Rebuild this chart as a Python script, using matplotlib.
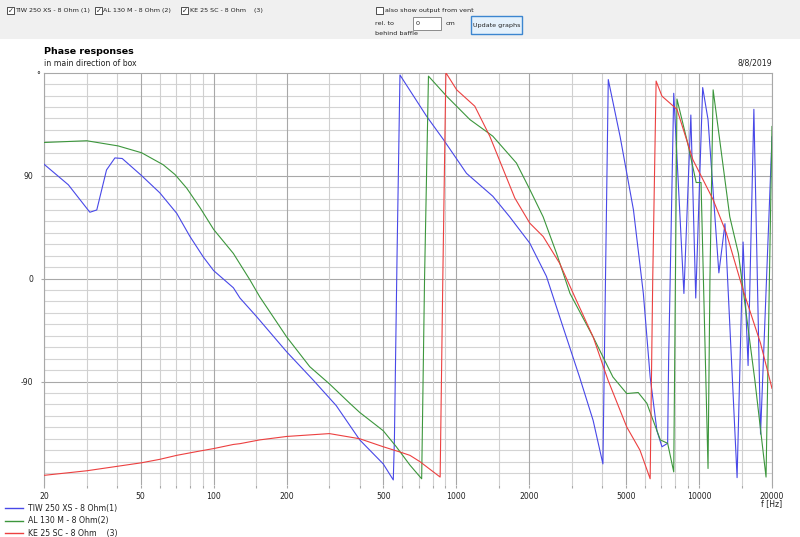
import numpy as np
import matplotlib
matplotlib.use("Agg")
import matplotlib.pyplot as plt
from matplotlib.patches import Rectangle

# series: frequency [Hz] and phase [deg]
tiw_f = [20, 25.2, 30.9, 33, 36.2, 39.2, 42, 50.5, 60, 70.5, 79.8, 90.6, 100, 120.6,
         128.4, 150, 200, 258, 320, 400, 500, 550, 556, 570, 586, 754, 882, 1102,
         1414, 1660, 2008, 2352, 2750, 3220, 3664, 4020, 4120, 4230, 4734, 5372,
         5900, 6294, 6712, 7040, 7430, 7500, 7872, 8670, 9260, 9700, 10360, 10900,
         12080, 12800, 14360, 15200, 15940, 16840, 17940, 20000]
tiw_deg = [100, 82, 58, 60, 95, 105.5, 105, 90, 75, 57, 37, 19, 7, -8,
           -17, -33, -64, -89, -111, -141, -162, -176, -140, 20, 178, 142, 122, 92,
           72, 54, 31, 2, -42, -86, -124, -162, 0, 174, 124, 60,
           -13, -86, -133, -147, -144, -71, 162, -13, 143, -17, 167, 139,
           5, 48, -174, 32, -76, 148, -136, 124]

al_f = [20, 30, 40.4, 50.5, 62, 69.3, 77.5, 87.9, 100, 120.6, 141, 155, 200, 249,
        300, 364, 400, 500, 566, 644, 720, 740, 768, 912, 1138, 1414, 1770, 2008,
        2280, 2590, 2942, 3664, 4420, 5040, 5620, 6100, 6930, 7430, 7872, 8000,
        8116, 9040, 9740, 10200, 10900, 11100, 11440, 13400, 14540, 17000, 18900,
        20000]
al_deg = [119, 120.5, 116, 110, 99.5, 91, 79, 62, 43, 22, -1, -16, -51, -77,
          -92, -109, -117, -133, -147, -163, -175, 0, 177, 159.5, 139, 124.5, 101, 78,
          54, 22, -13, -51, -86, -100.5, -99.6, -109, -141, -144, -169, 0,
          157, 116, 84, 84, -166, 0, 165, 54, 22, -89, -173.5,
          133]

ke_f = [20, 30, 40.4, 50.5, 60, 70.5, 87.9, 100, 120.6, 128.4, 155, 200, 300,
        400, 500, 586, 644, 708, 858, 880, 906, 1004, 1192, 1374, 1562, 1742,
        2008, 2280, 2664, 3120, 3664, 4220, 5040, 5714, 6294, 6450, 6660, 7040,
        8116, 9440, 11440, 12960, 15200, 17940, 20000]
ke_deg = [-172, -168, -164, -161, -158, -154.5, -150.7, -148.6, -145, -144.3, -141, -138, -135.5,
          -140, -147, -151.6, -154.5, -160, -173.5, 0, 180, 165, 150.7, 124.5, 95.3, 70.5,
          48.5, 36.8, 13.5, -18.7, -51, -88.8, -129.7, -150, -175, 0, 172.7, 159.5,
          148, 104, 69, 40, -10, -56.6, -96]

series_names = ["TIW 250 XS - 8 Ohm(1)", "AL 130 M - 8 Ohm(2)", "KE 25 SC - 8 Ohm    (3)"]
series_colors = ["#4848e8", "#3c963c", "#ec4040"]

x_labels = [20, 50, 100, 200, 500, 1000, 2000, 5000, 10000, 20000]
x_minor = [30, 40, 60, 70, 80, 90, 150, 300, 400, 600, 700, 800, 900, 1500,
           3000, 4000, 6000, 7000, 8000, 9000, 15000]
y_labels = [90, 0, -90]

W, H = 800, 537
FS = 5.6   # chart texts
TB = 4.6   # toolbar texts
TXT = "#222222"


def fx(x):
    return x / W


def fy(y):
    return 1 - y / H


fig = plt.figure(figsize=(W / 100, H / 100), dpi=100)
fig.patch.set_facecolor("white")

# toolbar strip
fig.patches.append(Rectangle((0, fy(39)), 1, 39 / H, transform=fig.transFigure,
                             facecolor="#f0f0f0", edgecolor="none", zorder=0))


def checkbox(x, y, checked):
    fig.patches.append(Rectangle((fx(x), fy(y + 7)), 7 / W, 7 / H, transform=fig.transFigure,
                                 facecolor="white", edgecolor="#333333", lw=0.6))
    if checked:
        fig.text(fx(x + 3.5), fy(y + 3.5), "\u2713", fontsize=5.0, ha="center",
                 va="center", color=TXT)


checkbox(7, 7, True)
fig.text(fx(15.5), fy(10.5), "TIW 250 XS - 8 Ohm (1)", fontsize=TB, va="center", color=TXT)
checkbox(95, 7, True)
fig.text(fx(103.5), fy(10.5), "AL 130 M - 8 Ohm (2)", fontsize=TB, va="center", color=TXT)
checkbox(181, 7, True)
fig.text(fx(190), fy(10.5), "KE 25 SC - 8 Ohm    (3)", fontsize=TB, va="center", color=TXT)

checkbox(376, 7, False)
fig.text(fx(385), fy(10.5), "also show output from vent", fontsize=TB, va="center", color=TXT)
fig.text(fx(375), fy(23.5), "rel. to", fontsize=TB, va="center", color=TXT)
fig.text(fx(375), fy(33.5), "behind baffle", fontsize=TB, va="center", color=TXT)
fig.patches.append(Rectangle((fx(413), fy(29.5)), 28 / W, 12.5 / H, transform=fig.transFigure,
                             facecolor="white", edgecolor="#7a7a7a", lw=0.6))
fig.text(fx(416), fy(23.5), "0", fontsize=TB, va="center", color=TXT)
fig.text(fx(446), fy(23.5), "cm", fontsize=TB, va="center", color=TXT)
fig.patches.append(Rectangle((fx(471), fy(34)), 51 / W, 18 / H, transform=fig.transFigure,
                             facecolor="#e5f1fb", edgecolor="#3c86d0", lw=1.0))
fig.text(fx(496.5), fy(25), "Update graphs", fontsize=TB, ha="center", va="center", color=TXT)

# headings
fig.text(fx(44), fy(51), "Phase responses", fontsize=6.8, fontweight="bold", va="center")
fig.text(fx(44), fy(63.5), "in main direction of box", fontsize=FS, va="center", color=TXT)
fig.text(fx(772), fy(63.5), "8/8/2019", fontsize=FS, ha="right", va="center", color=TXT)
fig.text(fx(38), fy(76), "\u00b0", fontsize=FS, ha="center", va="center", color=TXT)
fig.text(fx(772), fy(504), "f [Hz]", fontsize=FS, ha="center", va="center", color=TXT)

# plot area
ax = fig.add_axes([fx(44), fy(484.5), 728 / W, (484.5 - 72.7) / H])
ax.set_xscale("log")
ax.set_xlim(20, 20000)
ax.set_ylim(-180, 180)

for v in range(-170, 180, 10):
    ax.axhline(v, color="#a8a8a8" if v % 90 == 0 else "#d4d4d4", lw=0.8, zorder=0)
for f in x_minor:
    ax.axvline(f, color="#d0d0d0", lw=0.8, zorder=0)
for f in x_labels:
    ax.axvline(f, color="#a8a8a8", lw=0.8, zorder=0)

lines = []
for fr, dg, name, col in zip([tiw_f, al_f, ke_f], [tiw_deg, al_deg, ke_deg],
                             series_names, series_colors):
    ln, = ax.plot(fr, dg, color=col, lw=0.8, label=name, zorder=3)
    lines.append(ln)

ax.set_xticks(x_labels)
ax.set_xticklabels([str(v) for v in x_labels])
ax.set_xticks(x_minor, minor=True)
ax.xaxis.set_minor_formatter(matplotlib.ticker.NullFormatter())
ax.tick_params(axis="x", which="both", length=2.2, width=0.8, color="#a8a8a8",
               labelsize=FS, pad=3.2, labelcolor=TXT)
ax.set_yticks(y_labels)
ax.set_yticklabels([str(v) for v in y_labels])
ax.tick_params(axis="y", length=2.5, width=0.8, color="#a8a8a8", labelsize=FS,
               pad=5.5, labelcolor=TXT)

for side in ["left", "top", "right"]:
    ax.spines[side].set_color("#a8a8a8")
    ax.spines[side].set_linewidth(0.8)
ax.spines["bottom"].set_visible(False)

leg = fig.legend(handles=lines, loc="upper left", bbox_to_anchor=(fx(5), fy(504)),
                 frameon=False, fontsize=FS, borderpad=0, borderaxespad=0,
                 handlelength=2.3, handletextpad=0.6, labelspacing=0.45,
                 labelcolor=TXT)
for h in leg.legend_handles:
    h.set_linewidth(1.0)

fig.savefig("out.png", dpi=100)
